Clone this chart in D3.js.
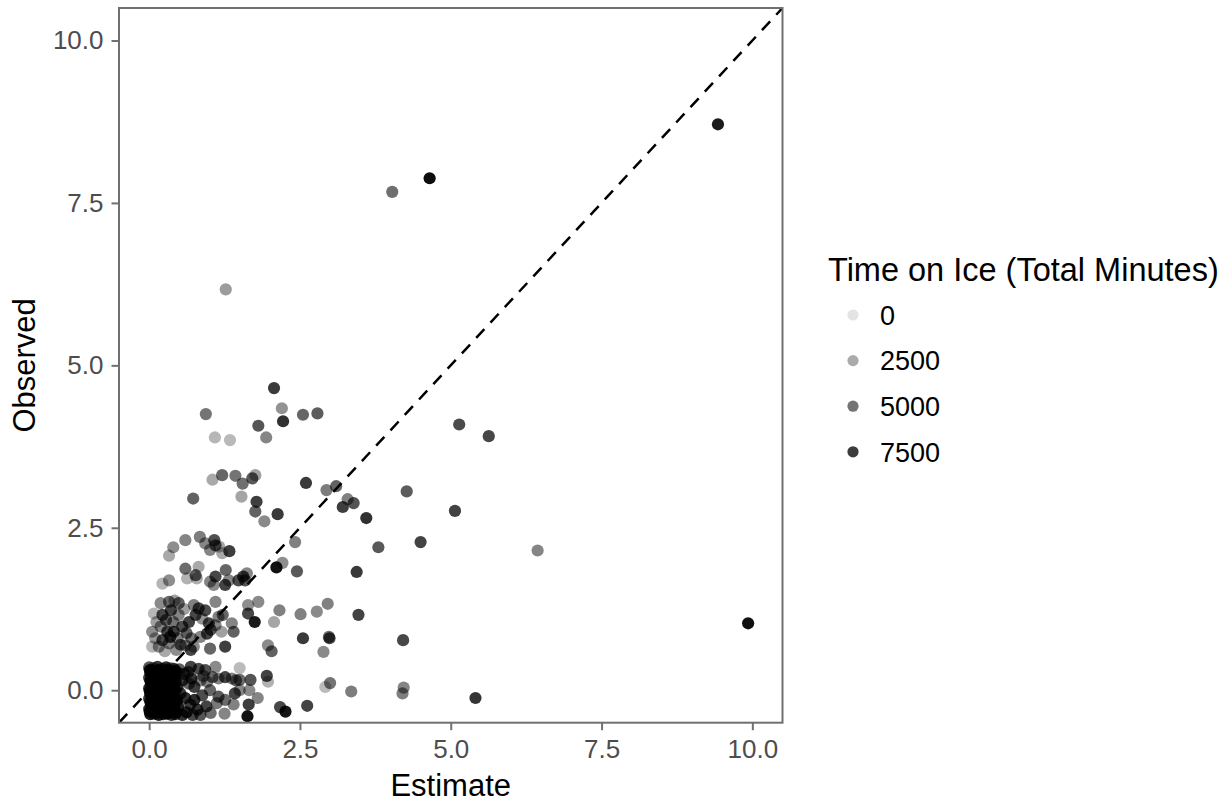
<!DOCTYPE html>
<html><head><meta charset="utf-8">
<script src="https://cdn.jsdelivr.net/npm/d3@7"></script>
<style>
body{margin:0;background:#fff}
text{font-family:"Liberation Sans",Arial,Helvetica,sans-serif}
</style>
</head><body>
<svg id="chart" width="1225" height="803"></svg>
<script>
// ---- data: [estimate, observed, timeOnIceMinutes] ----
const outlierPoints = [
  [9.93,1.03,9500],[9.43,8.71,9000],[4.65,7.88,9600],[4.03,7.67,5200],[1.27,6.17,3200],
  [6.44,2.15,4200],[5.14,4.09,6800],[5.63,3.91,7000],[5.07,2.76,7200],[4.50,2.28,7200],
  [4.27,3.06,6000],[3.60,2.65,8000],[3.80,2.20,6200],[3.44,1.82,7600],[3.47,1.16,7200],
  [4.21,0.77,7000],[4.22,0.04,4200],[4.20,-0.05,4500],[5.41,-0.12,7800],[3.35,-0.02,4600],
  [3.00,0.11,5000],[2.92,0.05,1800],[2.26,-0.33,9200],[2.17,-0.26,7000],[2.62,-0.24,7200]
];
const upperPoints = [
  [2.07,4.65,7600],[2.20,4.34,3600],[2.22,4.14,8000],[2.55,4.24,5600],[2.79,4.26,6000],
  [1.81,4.07,6400],[1.94,3.89,4200],[0.94,4.25,5000],[1.09,3.89,2000],[1.34,3.85,1900],
  [1.05,3.24,2600],[1.21,3.31,5600],[1.43,3.30,5000],[1.55,3.18,5200],[1.71,3.26,6200],
  [1.76,3.31,3000],[0.73,2.95,5800],[1.53,2.98,2800],[1.78,2.90,7400],[1.76,2.75,5800],
  [1.91,2.60,4000],[2.13,2.71,7600],[2.60,3.19,7600],[2.94,3.08,4600],[3.10,3.14,5800],
  [3.21,2.82,7400],[3.29,2.94,4400],[3.39,2.88,6400],[2.42,2.28,4400],[0.33,2.07,2600],
  [0.40,2.20,3800],[0.60,2.31,4200],[0.84,2.36,4600],[0.93,2.26,4200],[1.08,2.31,6600],
  [1.10,2.23,6400],[1.01,2.16,4200],[1.16,2.21,2800],[1.21,2.11,2600],[1.33,2.14,7400],
  [0.22,1.64,2000],[0.33,1.69,3800],[0.60,1.87,5400],[0.77,1.77,6000],[0.82,1.90,2600],
  [0.63,1.72,2200],[0.79,1.72,2400],[1.01,1.67,4200],[1.10,1.75,7000],[1.07,1.62,4000],
  [1.27,1.85,5600],[1.32,1.69,4200],[1.26,1.62,7200],[1.48,1.69,6800],[1.56,1.75,7200],
  [1.62,1.80,4200],[1.59,1.69,6600],[2.11,1.89,9400],[2.21,1.96,3800],[2.45,1.83,6200]
];
const midPoints = [
  [1.64,1.31,3800],[1.81,1.36,4000],[1.64,1.18,7000],[1.75,1.05,9000],[2.16,1.23,4400],
  [2.07,1.05,2800],[2.51,1.17,4400],[2.78,1.21,4000],[2.96,1.33,4400],[2.55,0.80,7600],
  [2.99,0.80,7000],[2.98,0.82,5200],[2.89,0.59,4000],[1.97,0.69,4000],[2.03,0.60,5800],
  [0.19,1.34,4000],[0.33,1.36,5400],[0.49,1.34,5800],[0.08,1.18,2000],[0.22,1.16,7000],
  [0.36,1.23,7200],[0.49,1.16,4200],[0.74,1.31,4400],[0.82,1.26,7000],[0.93,1.23,6800],
  [1.10,1.36,4200],[0.77,1.16,7000],[0.66,1.05,7200],[0.05,0.90,3800],[0.19,0.98,4200],
  [0.30,0.90,7200],[0.41,0.90,7400],[0.47,0.80,4400],[0.22,0.77,6800],[0.33,0.72,4400],
  [0.05,0.67,2000],[0.16,0.67,4000],[0.99,1.03,7000],[0.96,0.87,7200],[1.10,1.00,4200],
  [1.15,1.13,4400],[1.37,1.03,4200],[1.40,0.90,5800],[1.26,0.67,7400],[1.01,0.64,5600],
  [0.74,0.67,4000],[0.60,0.69,4200],[0.69,0.62,7000],[0.85,0.82,4200],[0.12,1.05,3000],
  [0.28,1.08,6000],[0.40,1.05,5000],[0.55,0.98,6800],[0.58,1.25,3000],[0.62,0.88,6000],
  [0.45,0.62,3800],[0.26,0.60,2600],[0.10,0.80,3200],[0.88,1.10,3600],[0.70,0.80,5000],
  [0.35,0.82,7800],[0.42,1.38,3000],[1.22,1.16,5600],[1.02,0.93,6400],[0.52,0.70,6200],
  [1.20,0.90,3000]
];
const lowPoints = [
  [1.50,0.34,1800],[1.50,0.16,5400],[1.68,0.16,6400],[1.95,0.22,7200],[1.97,0.13,2200],
  [1.50,0.00,4200],[1.66,0.00,4000],[1.80,-0.12,4200],[1.65,-0.22,7400],[1.63,-0.40,9400],
  [0.69,0.36,7200],[0.82,0.33,6800],[0.93,0.31,6600],[1.10,0.36,4000],[1.15,0.18,4400],
  [1.26,0.20,7000],[1.37,0.18,4200],[1.44,0.15,5600],[0.55,0.15,7400],[0.66,0.10,5800],
  [0.85,0.15,4400],[0.96,0.13,4200],[1.01,0.00,5600],[1.15,-0.10,6000],[1.26,-0.15,5400],
  [1.12,-0.20,4800],[1.40,-0.22,4400],[1.25,-0.36,4200],[1.42,-0.05,7000],[0.52,-0.05,7600],
  [0.60,-0.12,8000],[0.68,-0.22,7400],[0.75,-0.15,8200],[0.80,-0.30,7800],[0.62,-0.34,8400],
  [0.72,-0.38,7000],[0.88,-0.08,6800],[0.95,-0.25,7200],[0.58,0.25,7000],[0.50,0.32,6000],
  [0.75,0.05,7400],[0.85,-0.38,6400],[1.02,-0.35,5200],[0.48,-0.25,8800],[0.55,-0.38,8000],
  [0.90,0.22,5000],[0.65,0.28,6600],[1.05,0.20,5600],[0.70,0.18,7800]
];
const blockPoints = [
  [0.00,0.35,6200],[0.07,0.34,4800],[0.14,0.36,7400],[0.21,0.33,5600],[0.28,0.35,8000],[0.35,0.34,4400],[0.41,0.33,7000],
  [0.02,0.27,8200],[0.09,0.28,5200],[0.16,0.26,7800],[0.24,0.28,6400],[0.31,0.27,8600],[0.38,0.26,5800],
  [0.00,0.19,7600],[0.06,0.20,8800],[0.13,0.18,6000],[0.20,0.19,9000],[0.27,0.20,7200],[0.34,0.18,8400],[0.42,0.19,6600],
  [0.03,0.11,9200],[0.10,0.12,6800],[0.17,0.10,8600],[0.24,0.11,7400],[0.31,0.12,9400],[0.39,0.10,7000],
  [0.00,0.03,8400],[0.07,0.04,9600],[0.14,0.02,7800],[0.21,0.03,9000],[0.28,0.04,8200],[0.35,0.02,6400],[0.42,0.03,8800],
  [0.02,-0.05,9000],[0.09,-0.04,7600],[0.16,-0.06,9400],[0.23,-0.05,8000],[0.30,-0.04,8800],[0.37,-0.06,7200],
  [0.00,-0.13,7800],[0.06,-0.12,9200],[0.13,-0.14,8400],[0.20,-0.13,9800],[0.27,-0.12,7600],[0.34,-0.14,9000],[0.41,-0.13,6800],
  [0.03,-0.21,8600],[0.10,-0.20,7400],[0.17,-0.22,9000],[0.24,-0.21,8200],[0.31,-0.20,9400],[0.38,-0.22,7800],
  [0.00,-0.29,8000],[0.07,-0.28,9400],[0.14,-0.30,7600],[0.21,-0.29,8800],[0.28,-0.28,8400],[0.35,-0.30,9200],[0.42,-0.29,7000],
  [0.02,-0.37,8800],[0.09,-0.36,7200],[0.16,-0.38,9000],[0.23,-0.37,8000],[0.30,-0.36,9600],[0.37,-0.38,7400],
  [0.04,0.31,5000],[0.18,0.30,6000],[0.33,0.31,4200],[0.11,0.23,3600],[0.26,0.24,5200],[0.40,0.24,6800],
  [0.05,0.15,4600],[0.19,0.14,5400],[0.33,0.15,3800],[0.12,0.07,6200],[0.26,0.07,4400],[0.40,0.07,5600],
  [0.04,-0.01,5800],[0.18,-0.01,3400],[0.32,-0.01,6000],[0.11,-0.09,4800],[0.25,-0.09,6600],[0.39,-0.09,4000],
  [0.05,-0.17,5200],[0.19,-0.17,4600],[0.33,-0.17,6200],[0.12,-0.25,3800],[0.26,-0.25,5400],[0.40,-0.25,6400],
  [0.04,-0.33,4400],[0.18,-0.33,6000],[0.32,-0.33,5000],[0.45,-0.34,7000],[0.46,0.28,6600],[0.47,0.05,7600],[0.46,-0.15,8200],
  [0.01,0.31,8800],[0.15,0.31,9000],[0.29,0.31,8600],[0.43,0.30,8000],[0.08,0.23,9200],[0.22,0.23,8800],[0.36,0.22,9400],
  [0.02,0.15,9000],[0.16,0.14,8400],[0.30,0.15,9200],[0.44,0.14,7600],[0.08,0.07,8800],[0.22,0.07,9400],[0.36,0.07,8600],
  [0.01,-0.01,9200],[0.15,-0.01,8800],[0.29,-0.01,9000],[0.43,-0.02,8000],[0.08,-0.09,9400],[0.22,-0.09,8600],[0.36,-0.09,9200],
  [0.02,-0.17,8800],[0.16,-0.17,9400],[0.30,-0.17,8400],[0.44,-0.18,7800],[0.08,-0.25,9000],[0.22,-0.25,9200],[0.36,-0.25,8800],
  [0.01,-0.33,9400],[0.15,-0.33,8600],[0.29,-0.33,9000],[0.43,-0.37,8200]
];
const xTicks = [0, 2.5, 5, 7.5, 10];
const yTicks = [0, 2.5, 5, 7.5, 10];
const legendValues = [0, 2500, 5000, 7500];
const xTitle = "Estimate", yTitle = "Observed", legendTitle = "Time on Ice (Total Minutes)";

// ---- layout ----
const svg = d3.select("#chart");
const P = {left:119, right:782.5, top:8, bottom:722.7};
const x = d3.scaleLinear().domain([-0.5, 10.5]).range([P.left, P.right]);
const y = d3.scaleLinear().domain([-0.5, 10.5]).range([P.bottom, P.top]);
const alpha = d3.scaleLinear().domain([0, 10200]).range([0.11, 1]).clamp(true);
const axisCol = "#707070", textCol = "#4d4d4d";

svg.append("rect").attr("width",1225).attr("height",803).attr("fill","#fff");
svg.append("clipPath").attr("id","clip").append("rect")
  .attr("x",P.left).attr("y",P.top).attr("width",P.right-P.left).attr("height",P.bottom-P.top);

const all = [...outlierPoints, ...upperPoints, ...midPoints, ...lowPoints, ...blockPoints];
const gp = svg.append("g").attr("clip-path","url(#clip)");
gp.selectAll("circle").data(all).join("circle")
  .attr("cx", d => x(d[0])).attr("cy", d => y(d[1])).attr("r", 6.1)
  .attr("fill","#000").attr("fill-opacity", d => alpha(d[2]));

gp.append("line")
  .attr("x1", x(-0.5)).attr("y1", y(-0.5)).attr("x2", x(10.5)).attr("y2", y(10.5))
  .attr("stroke","#000").attr("stroke-width",2.5).attr("stroke-dasharray","12,9");

// axes
const fmt = d3.format(".1f");
const gx = svg.append("g").attr("transform",`translate(0,${P.bottom})`)
  .call(d3.axisBottom(x).tickValues(xTicks).tickFormat(fmt).tickSize(7.5).tickPadding(9));
const gy = svg.append("g").attr("transform",`translate(${P.left},0)`)
  .call(d3.axisLeft(y).tickValues(yTicks).tickFormat(fmt).tickSize(7.5).tickPadding(8));
[gx, gy].forEach(g => {
  g.select(".domain").remove();
  g.selectAll("line").attr("stroke", axisCol).attr("stroke-width", 2);
  g.selectAll("text").attr("fill", textCol).style("font-size","26px")
   .style("font-family",'"Liberation Sans",Arial,sans-serif');
});

// panel border
svg.append("rect").attr("x",P.left).attr("y",P.top)
  .attr("width",P.right-P.left).attr("height",P.bottom-P.top)
  .attr("fill","none").attr("stroke",axisCol).attr("stroke-width",2);

// titles
svg.append("text").attr("x",(P.left+P.right)/2).attr("y",796).attr("text-anchor","middle")
  .style("font-size","31px").attr("fill","#000").text(xTitle);
svg.append("text").attr("transform",`translate(35,${(P.top+P.bottom)/2}) rotate(-90)`)
  .attr("text-anchor","middle").style("font-size","31px").attr("fill","#000").text(yTitle);

// legend
const lg = svg.append("g");
lg.append("text").attr("x",828).attr("y",281).style("font-size","32.5px").attr("fill","#000").text(legendTitle);
const items = lg.selectAll("g.item").data(legendValues).join("g").attr("class","item")
  .attr("transform",(d,i)=>`translate(0,${315 + i*45.6})`);
items.append("circle").attr("cx",853).attr("cy",0).attr("r",5.6)
  .attr("fill","#000").attr("fill-opacity", d => alpha(d));
items.append("text").attr("x",880).attr("y",0).attr("dy","0.36em")
  .style("font-size","27px").attr("fill","#000").text(d => d);
</script>
</body></html>
